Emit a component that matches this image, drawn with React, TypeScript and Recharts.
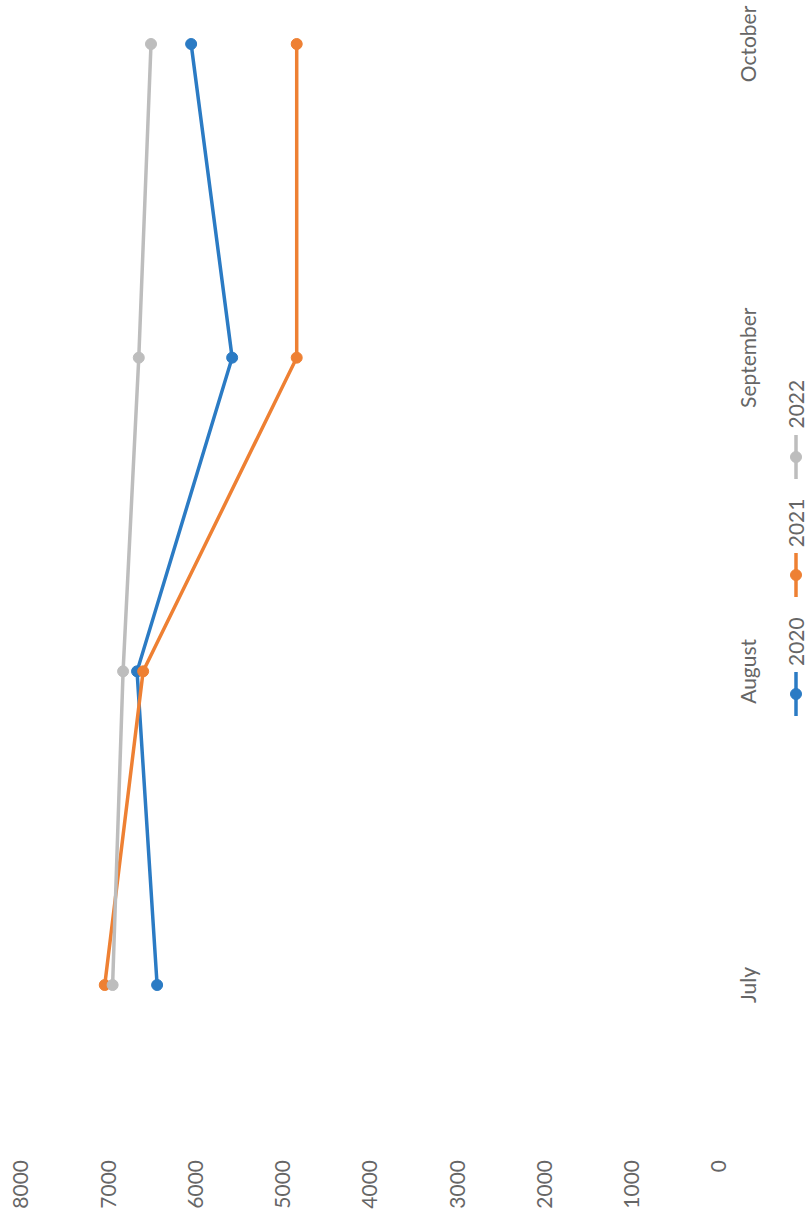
import React from "react";
import { LineChart, Line, XAxis, YAxis, Legend } from "recharts";

const months = ["July", "August", "September", "October"];
const series2020 = [6440, 6670, 5580, 6050];
const series2021 = [7040, 6600, 4840, 4840];
const series2022 = [6950, 6830, 6650, 6510];
const valueTicks = [0, 1000, 2000, 3000, 4000, 5000, 6000, 7000, 8000];

const seriesDefs = [
  { key: "2020", color: "#2B7BC4" },
  { key: "2021", color: "#EE8033" },
  { key: "2022", color: "#BDBDBD" },
];

const data = months.map((m, i) => ({
  month: m,
  "2020": series2020[i],
  "2021": series2021[i],
  "2022": series2022[i],
}));

const FONT = "Lato, 'Open Sans', sans-serif";
const TEXT = "#666666";

const LegendContent = () => (
  <div style={{ display: "flex", justifyContent: "flex-start", alignItems: "center", fontFamily: FONT, fontSize: 21, color: TEXT }}>
    {seriesDefs.map((s) => (
      <div key={s.key} style={{ display: "flex", alignItems: "center", marginRight: 20 }}>
        <svg width={44} height={14} style={{ marginRight: 6 }}>
          <line x1={0} y1={7} x2={44} y2={7} stroke={s.color} strokeWidth={3.5} />
          <circle cx={22} cy={7} r={5.5} fill={s.color} stroke={s.color} />
        </svg>
        <span>{s.key}</span>
      </div>
    ))}
  </div>
);

export default function App() {
  return (
    <div style={{ position: "fixed", left: 0, top: 0, width: 810, height: 1232, overflow: "hidden", background: "#fff" }}>
      <div
        style={{
          position: "absolute",
          left: 0,
          top: 0,
          width: 1232,
          height: 810,
          transformOrigin: "0 0",
          transform: "translate(0px, 1232px) rotate(-90deg)",
        }}
      >
        <LineChart width={1232} height={810} data={data} margin={{ top: 21, right: 44, bottom: 61, left: 47 }}>
          <XAxis
            dataKey="month"
            axisLine={false}
            tickLine={false}
            tickSize={0}
            tickMargin={22}
            tick={{ fontSize: 21, fill: TEXT, fontFamily: FONT }}
          />
          <YAxis
            domain={[0, 8000]}
            ticks={valueTicks}
            width={200}
            axisLine={false}
            tickLine={false}
            tickSize={0}
            tickMargin={175}
            tick={{ fontSize: 21, fill: TEXT, fontFamily: FONT }}
          />
          <Legend
            layout="horizontal"
            verticalAlign="middle"
            align="center"
            content={<LegendContent />}
            wrapperStyle={{ left: 516, top: 783, width: 400 }}
          />
          {seriesDefs.map((s) => (
            <Line
              key={s.key}
              type="linear"
              dataKey={s.key}
              stroke={s.color}
              strokeWidth={3.5}
              dot={{ r: 5.5, fill: s.color, stroke: s.color, strokeWidth: 1 }}
              activeDot={false}
              isAnimationActive={false}
            />
          ))}
        </LineChart>
      </div>
    </div>
  );
}
